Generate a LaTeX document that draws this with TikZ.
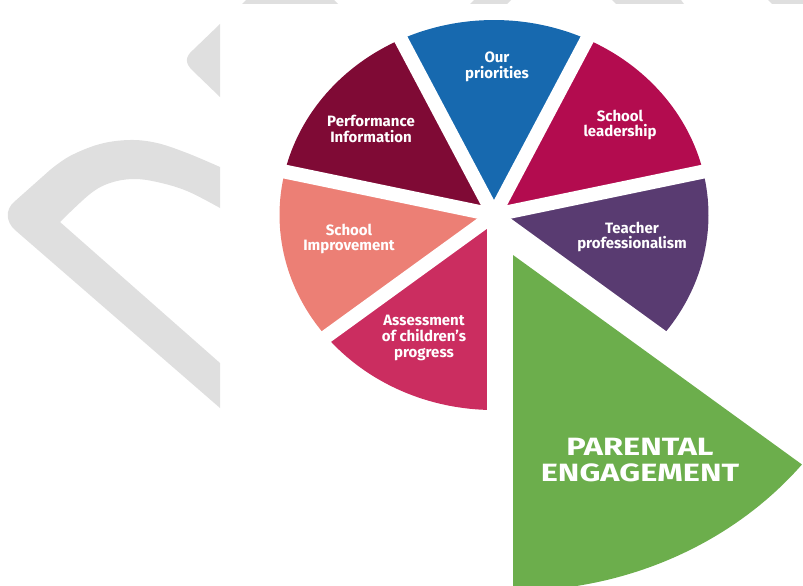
\documentclass[tikz,border=0pt]{standalone}
\usepackage{fontspec}
\setmainfont{Fira Sans}
\newfontfamily\bigfont{Fira Sans}[FakeStretch=1.3]
\definecolor{cBlue}{HTML}{1769AF}
\definecolor{cPerf}{HTML}{7F0A35}
\definecolor{cLead}{HTML}{B30C4F}
\definecolor{cTeach}{HTML}{593B71}
\definecolor{cImpr}{HTML}{EC7F75}
\definecolor{cAss}{HTML}{CB2D60}
\definecolor{cGreen}{HTML}{6CAE4C}
\definecolor{wm}{HTML}{DFDFDF}
\begin{document}
\begin{tikzpicture}[x=1pt,y=-1pt,
  lbl/.style={text=white, align=center, inner sep=0pt,
    font=\bfseries\fontsize{15}{15.6}\selectfont},
  biglbl/.style={text=white, align=center, inner sep=0pt,
    font=\bigfont\bfseries\fontsize{25}{26}\selectfont},
  gapline/.style={white, line width=14pt}]
\useasboundingbox (0,0) rectangle (803,586);
\clip (0,0) rectangle (803,586);
% watermark
\fill[wm] plot[smooth, tension=0.6] coordinates {(220,167) (187,153) (157,143) (130,140) (100,144) (70,156) (50,170)}
  -- (14,202) .. controls (5,210) and (6,222) .. (15,230) -- (220,408) -- (220,363) -- (60,222)
  -- plot[smooth, tension=0.6] coordinates {(60,222) (90,194) (110,183) (133,179) (157,182) (187,191) (220,208)} -- cycle;
\fill[wm] (220,24) -- (193,50) .. controls (185,57) and (185,63) .. (192,70) -- (220,97) -- cycle;
\fill[wm] (246,0) -- (334,0) -- (338,4) -- (242,4) -- cycle;
\fill[wm] (474,0) -- (511,0) -- (507,4) -- (470,4) -- cycle;
\fill[wm] (612,0) -- (681,0) -- (684,4) -- (616,4) -- cycle;
\fill[wm] (768,0) -- (803,0) -- (803,4) -- (772,4) -- cycle;
% pie
\begin{scope}[shift={(494,215)}, x=1.1pt, y=1pt]
  \fill[cTeach] (0,0) -- (-38.571:195) arc[start angle=-38.571, end angle=12.857, radius=195] -- cycle;
  \fill[cLead]  (0,0) -- (12.857:195) arc[start angle=12.857, end angle=64.286, radius=195] -- cycle;
  \fill[cBlue]  (0,0) -- (64.286:195) arc[start angle=64.286, end angle=115.714, radius=195] -- cycle;
  \fill[cPerf]  (0,0) -- (115.714:195) arc[start angle=115.714, end angle=167.143, radius=195] -- cycle;
  \fill[cImpr]  (0,0) -- (167.143:195) arc[start angle=167.143, end angle=218.571, radius=195] -- cycle;
  \fill[cAss]   (0,0) -- (218.571:195) arc[start angle=218.571, end angle=270, radius=195] -- cycle;
  \foreach \a in {-90,-38.571,12.857,64.286,115.714,167.143,218.571}
    \draw[gapline] (0,0) -- (\a:205);
\end{scope}
\begin{scope}[shift={(513,255)}, x=1.1pt, y=1pt]
  \fill[cGreen] (0,0) -- (-90:336) arc[start angle=-90, end angle=-38.571, radius=336] -- cycle;
\end{scope}
% labels
\node[lbl] (prio) at (497,67) {Our\\priorities};
\node[lbl] (lead) at (620,125) {School\\leadership};
\node[lbl] (teach) at (632,237) {Teacher\\professionalism};
\node[lbl] (perf) at (371,129) {Performance\\Information};
\node[lbl] (impr) at (349,239) {School\\Improvement};
\node[lbl] (ass) at (424,338) {Assessment\\of children's\\progress};
\node[biglbl] (par) at (640,460) {PARENTAL\\ENGAGEMENT};
\end{tikzpicture}
\end{document}
